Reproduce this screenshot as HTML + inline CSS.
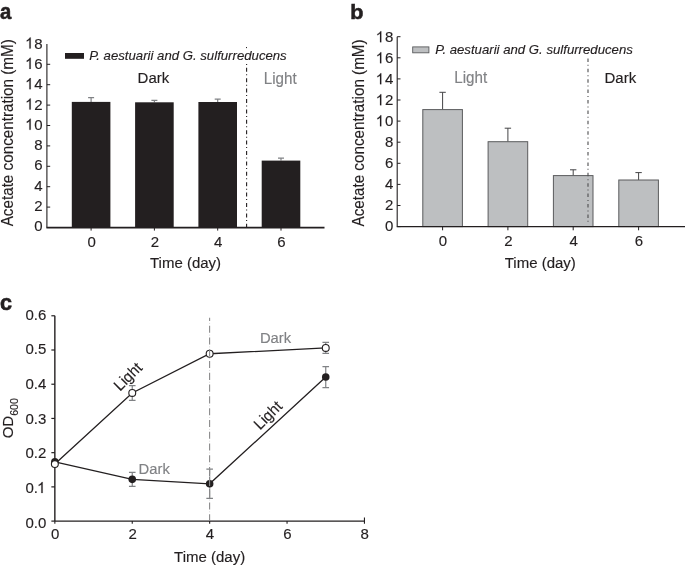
<!DOCTYPE html>
<html><head><meta charset="utf-8"><style>
html,body{margin:0;padding:0;background:#fff;}
svg{display:block;will-change:transform;font-family:"Liberation Sans", sans-serif;}
</style></head><body>
<svg width="685" height="566" viewBox="0 0 685 566">
<rect width="685" height="566" fill="#fff"/>
<path d="M91.1,101.9V97.6M88.1,97.6h6" stroke="#808285" stroke-width="1.2" fill="none"/>
<rect x="71.80" y="101.9" width="38.6" height="125.70" fill="#231f20"/>
<path d="M154.4,102.3V100.4M151.4,100.4h6" stroke="#808285" stroke-width="1.2" fill="none"/>
<rect x="135.10" y="102.3" width="38.6" height="125.30" fill="#231f20"/>
<path d="M217.7,102.0V99.1M214.7,99.1h6" stroke="#808285" stroke-width="1.2" fill="none"/>
<rect x="198.40" y="102.0" width="38.6" height="125.60" fill="#231f20"/>
<path d="M281.0,160.6V158.2M278.0,158.2h6" stroke="#808285" stroke-width="1.2" fill="none"/>
<rect x="261.70" y="160.6" width="38.6" height="67.00" fill="#231f20"/>
<rect x="246" y="47" width="1" height="1.1" fill="#231f20"/>
<line x1="246.6" y1="63.9" x2="246.6" y2="227" stroke="#231f20" stroke-width="1.1" stroke-dasharray="1 2.9 4 2.5"/>
<line x1="46.9" y1="44" x2="46.9" y2="227.6" stroke="#231f20" stroke-width="1.1"/>
<line x1="46.4" y1="227.6" x2="324.5" y2="227.6" stroke="#231f20" stroke-width="1.6"/>
<line x1="46.9" y1="227.5" x2="50.199999999999996" y2="227.5" stroke="#231f20" stroke-width="1"/>
<g transform="translate(34.36,231.45) scale(1,1.03)"><text font-size="15" fill="#231f20" stroke="#231f20" stroke-width="0.15">0</text></g>
<line x1="46.9" y1="207.1" x2="50.199999999999996" y2="207.1" stroke="#231f20" stroke-width="1"/>
<g transform="translate(34.36,211.13) scale(1,1.03)"><text font-size="15" fill="#231f20" stroke="#231f20" stroke-width="0.15">2</text></g>
<line x1="46.9" y1="186.7" x2="50.199999999999996" y2="186.7" stroke="#231f20" stroke-width="1"/>
<g transform="translate(34.36,190.81) scale(1,1.03)"><text font-size="15" fill="#231f20" stroke="#231f20" stroke-width="0.15">4</text></g>
<line x1="46.9" y1="166.3" x2="50.199999999999996" y2="166.3" stroke="#231f20" stroke-width="1"/>
<g transform="translate(34.36,170.49) scale(1,1.03)"><text font-size="15" fill="#231f20" stroke="#231f20" stroke-width="0.15">6</text></g>
<line x1="46.9" y1="145.9" x2="50.199999999999996" y2="145.9" stroke="#231f20" stroke-width="1"/>
<g transform="translate(34.36,150.17) scale(1,1.03)"><text font-size="15" fill="#231f20" stroke="#231f20" stroke-width="0.15">8</text></g>
<line x1="46.9" y1="125.5" x2="50.199999999999996" y2="125.5" stroke="#231f20" stroke-width="1"/>
<g transform="translate(26.02,129.85) scale(1,1.03)"><text font-size="15" fill="#231f20" stroke="#231f20" stroke-width="0.15"> 0</text><path d="M4.69,0.00H3.37V-8.40Q2.89,-7.95 2.12,-7.49Q1.35,-7.04 0.73,-6.81V-8.09Q1.84,-8.61 2.67,-9.35Q3.49,-10.09 3.84,-10.78H4.69Z" fill="#231f20" stroke="#231f20" stroke-width="0.15"/></g>
<line x1="46.9" y1="105.10000000000001" x2="50.199999999999996" y2="105.10000000000001" stroke="#231f20" stroke-width="1"/>
<g transform="translate(26.02,109.53) scale(1,1.03)"><text font-size="15" fill="#231f20" stroke="#231f20" stroke-width="0.15"> 2</text><path d="M4.69,0.00H3.37V-8.40Q2.89,-7.95 2.12,-7.49Q1.35,-7.04 0.73,-6.81V-8.09Q1.84,-8.61 2.67,-9.35Q3.49,-10.09 3.84,-10.78H4.69Z" fill="#231f20" stroke="#231f20" stroke-width="0.15"/></g>
<line x1="46.9" y1="84.70000000000002" x2="50.199999999999996" y2="84.70000000000002" stroke="#231f20" stroke-width="1"/>
<g transform="translate(26.02,89.21) scale(1,1.03)"><text font-size="15" fill="#231f20" stroke="#231f20" stroke-width="0.15"> 4</text><path d="M4.69,0.00H3.37V-8.40Q2.89,-7.95 2.12,-7.49Q1.35,-7.04 0.73,-6.81V-8.09Q1.84,-8.61 2.67,-9.35Q3.49,-10.09 3.84,-10.78H4.69Z" fill="#231f20" stroke="#231f20" stroke-width="0.15"/></g>
<line x1="46.9" y1="64.30000000000001" x2="50.199999999999996" y2="64.30000000000001" stroke="#231f20" stroke-width="1"/>
<g transform="translate(26.02,68.89) scale(1,1.03)"><text font-size="15" fill="#231f20" stroke="#231f20" stroke-width="0.15"> 6</text><path d="M4.69,0.00H3.37V-8.40Q2.89,-7.95 2.12,-7.49Q1.35,-7.04 0.73,-6.81V-8.09Q1.84,-8.61 2.67,-9.35Q3.49,-10.09 3.84,-10.78H4.69Z" fill="#231f20" stroke="#231f20" stroke-width="0.15"/></g>
<g transform="translate(26.02,48.57) scale(1,1.03)"><text font-size="15" fill="#231f20" stroke="#231f20" stroke-width="0.15"> 8</text><path d="M4.69,0.00H3.37V-8.40Q2.89,-7.95 2.12,-7.49Q1.35,-7.04 0.73,-6.81V-8.09Q1.84,-8.61 2.67,-9.35Q3.49,-10.09 3.84,-10.78H4.69Z" fill="#231f20" stroke="#231f20" stroke-width="0.15"/></g>
<line x1="91.1" y1="227.6" x2="91.1" y2="230.6" stroke="#231f20" stroke-width="1"/>
<text transform="translate(91.60,246.70) scale(1.0,1.03)" text-anchor="middle" font-size="15" fill="#231f20" stroke="#231f20" stroke-width="0.15">0</text>
<line x1="154.4" y1="227.6" x2="154.4" y2="230.6" stroke="#231f20" stroke-width="1"/>
<text transform="translate(154.90,246.70) scale(1.0,1.03)" text-anchor="middle" font-size="15" fill="#231f20" stroke="#231f20" stroke-width="0.15">2</text>
<line x1="217.7" y1="227.6" x2="217.7" y2="230.6" stroke="#231f20" stroke-width="1"/>
<text transform="translate(218.20,246.70) scale(1.0,1.03)" text-anchor="middle" font-size="15" fill="#231f20" stroke="#231f20" stroke-width="0.15">4</text>
<line x1="281.0" y1="227.6" x2="281.0" y2="230.6" stroke="#231f20" stroke-width="1"/>
<text transform="translate(281.50,246.70) scale(1.0,1.03)" text-anchor="middle" font-size="15" fill="#231f20" stroke="#231f20" stroke-width="0.15">6</text>
<text transform="translate(185.50,268.10) scale(1.0,1.03)" text-anchor="middle" font-size="15" fill="#231f20" stroke="#231f20" stroke-width="0.15">Time (day)</text>
<text transform="translate(13.20,132.75) rotate(-90) scale(1.0,1.03)" text-anchor="middle" font-size="15.25" fill="#231f20" stroke="#231f20" stroke-width="0.15">Acetate concentration (mM)</text>
<rect x="65" y="53" width="19" height="5.8" fill="#231f20"/>
<text transform="translate(89.20,59.50) scale(1.0,1.03)" font-size="13.2" fill="#231f20" stroke="#231f20" stroke-width="0.15" font-style="italic">P. aestuarii and G. sulfurreducens</text>
<text transform="translate(137.60,83.30) scale(1.0,1.03)" font-size="15" fill="#231f20" stroke="#231f20" stroke-width="0.15">Dark</text>
<text transform="translate(263.70,83.50) scale(1.0,1.03)" font-size="15.2" fill="#808285" stroke="#808285" stroke-width="0.15">Light</text>
<text transform="translate(0.10,18.80) scale(0.9,1.02)" font-size="22.5" fill="#231f20" stroke="#231f20" stroke-width="0.6" font-weight="bold">a</text>
<path d="M442.6,109.6V92.3M439.40000000000003,92.3h6.4" stroke="#444446" stroke-width="1" fill="none"/>
<rect x="422.80" y="109.6" width="39.6" height="117.00" fill="#bdbfc1" stroke="#5a5b5d" stroke-width="1"/>
<path d="M507.9,141.7V128.2M504.7,128.2h6.4" stroke="#444446" stroke-width="1" fill="none"/>
<rect x="488.10" y="141.7" width="39.6" height="84.90" fill="#bdbfc1" stroke="#5a5b5d" stroke-width="1"/>
<path d="M573.2,175.6V169.8M570.0,169.8h6.4" stroke="#444446" stroke-width="1" fill="none"/>
<rect x="553.40" y="175.6" width="39.6" height="51.00" fill="#bdbfc1" stroke="#5a5b5d" stroke-width="1"/>
<path d="M638.6,180.0V172.6M635.4,172.6h6.4" stroke="#444446" stroke-width="1" fill="none"/>
<rect x="618.80" y="180.0" width="39.6" height="46.60" fill="#bdbfc1" stroke="#5a5b5d" stroke-width="1"/>
<line x1="588" y1="58.4" x2="588" y2="222" stroke="#4d4d4f" stroke-width="1.1" stroke-dasharray="3.5 2.9 1 3.0"/>
<line x1="397.2" y1="36.70" x2="397.2" y2="226.6" stroke="#231f20" stroke-width="1.1"/>
<line x1="396.7" y1="226.6" x2="685" y2="226.6" stroke="#231f20" stroke-width="1.4"/>
<line x1="397.2" y1="226.60" x2="400.5" y2="226.60" stroke="#231f20" stroke-width="1"/>
<g transform="translate(384.96,231.45) scale(1,1.03)"><text font-size="15" fill="#231f20" stroke="#231f20" stroke-width="0.15">0</text></g>
<line x1="397.2" y1="205.50" x2="400.5" y2="205.50" stroke="#231f20" stroke-width="1"/>
<g transform="translate(384.96,210.43) scale(1,1.03)"><text font-size="15" fill="#231f20" stroke="#231f20" stroke-width="0.15">2</text></g>
<line x1="397.2" y1="184.40" x2="400.5" y2="184.40" stroke="#231f20" stroke-width="1"/>
<g transform="translate(384.96,189.41) scale(1,1.03)"><text font-size="15" fill="#231f20" stroke="#231f20" stroke-width="0.15">4</text></g>
<line x1="397.2" y1="163.30" x2="400.5" y2="163.30" stroke="#231f20" stroke-width="1"/>
<g transform="translate(384.96,168.39) scale(1,1.03)"><text font-size="15" fill="#231f20" stroke="#231f20" stroke-width="0.15">6</text></g>
<line x1="397.2" y1="142.20" x2="400.5" y2="142.20" stroke="#231f20" stroke-width="1"/>
<g transform="translate(384.96,147.37) scale(1,1.03)"><text font-size="15" fill="#231f20" stroke="#231f20" stroke-width="0.15">8</text></g>
<line x1="397.2" y1="121.10" x2="400.5" y2="121.10" stroke="#231f20" stroke-width="1"/>
<g transform="translate(376.62,126.35) scale(1,1.03)"><text font-size="15" fill="#231f20" stroke="#231f20" stroke-width="0.15"> 0</text><path d="M4.69,0.00H3.37V-8.40Q2.89,-7.95 2.12,-7.49Q1.35,-7.04 0.73,-6.81V-8.09Q1.84,-8.61 2.67,-9.35Q3.49,-10.09 3.84,-10.78H4.69Z" fill="#231f20" stroke="#231f20" stroke-width="0.15"/></g>
<line x1="397.2" y1="100.00" x2="400.5" y2="100.00" stroke="#231f20" stroke-width="1"/>
<g transform="translate(376.62,105.33) scale(1,1.03)"><text font-size="15" fill="#231f20" stroke="#231f20" stroke-width="0.15"> 2</text><path d="M4.69,0.00H3.37V-8.40Q2.89,-7.95 2.12,-7.49Q1.35,-7.04 0.73,-6.81V-8.09Q1.84,-8.61 2.67,-9.35Q3.49,-10.09 3.84,-10.78H4.69Z" fill="#231f20" stroke="#231f20" stroke-width="0.15"/></g>
<line x1="397.2" y1="78.90" x2="400.5" y2="78.90" stroke="#231f20" stroke-width="1"/>
<g transform="translate(376.62,84.31) scale(1,1.03)"><text font-size="15" fill="#231f20" stroke="#231f20" stroke-width="0.15"> 4</text><path d="M4.69,0.00H3.37V-8.40Q2.89,-7.95 2.12,-7.49Q1.35,-7.04 0.73,-6.81V-8.09Q1.84,-8.61 2.67,-9.35Q3.49,-10.09 3.84,-10.78H4.69Z" fill="#231f20" stroke="#231f20" stroke-width="0.15"/></g>
<line x1="397.2" y1="57.80" x2="400.5" y2="57.80" stroke="#231f20" stroke-width="1"/>
<g transform="translate(376.62,63.29) scale(1,1.03)"><text font-size="15" fill="#231f20" stroke="#231f20" stroke-width="0.15"> 6</text><path d="M4.69,0.00H3.37V-8.40Q2.89,-7.95 2.12,-7.49Q1.35,-7.04 0.73,-6.81V-8.09Q1.84,-8.61 2.67,-9.35Q3.49,-10.09 3.84,-10.78H4.69Z" fill="#231f20" stroke="#231f20" stroke-width="0.15"/></g>
<line x1="397.2" y1="36.70" x2="400.5" y2="36.70" stroke="#231f20" stroke-width="1"/>
<g transform="translate(376.62,42.27) scale(1,1.03)"><text font-size="15" fill="#231f20" stroke="#231f20" stroke-width="0.15"> 8</text><path d="M4.69,0.00H3.37V-8.40Q2.89,-7.95 2.12,-7.49Q1.35,-7.04 0.73,-6.81V-8.09Q1.84,-8.61 2.67,-9.35Q3.49,-10.09 3.84,-10.78H4.69Z" fill="#231f20" stroke="#231f20" stroke-width="0.15"/></g>
<line x1="442.6" y1="226.6" x2="442.6" y2="230.29999999999998" stroke="#231f20" stroke-width="1"/>
<text transform="translate(443.00,246.40) scale(1.0,1.03)" text-anchor="middle" font-size="15" fill="#231f20" stroke="#231f20" stroke-width="0.15">0</text>
<line x1="507.9" y1="226.6" x2="507.9" y2="230.29999999999998" stroke="#231f20" stroke-width="1"/>
<text transform="translate(508.30,246.40) scale(1.0,1.03)" text-anchor="middle" font-size="15" fill="#231f20" stroke="#231f20" stroke-width="0.15">2</text>
<line x1="573.2" y1="226.6" x2="573.2" y2="230.29999999999998" stroke="#231f20" stroke-width="1"/>
<text transform="translate(573.60,246.40) scale(1.0,1.03)" text-anchor="middle" font-size="15" fill="#231f20" stroke="#231f20" stroke-width="0.15">4</text>
<line x1="638.6" y1="226.6" x2="638.6" y2="230.29999999999998" stroke="#231f20" stroke-width="1"/>
<text transform="translate(639.00,246.40) scale(1.0,1.03)" text-anchor="middle" font-size="15" fill="#231f20" stroke="#231f20" stroke-width="0.15">6</text>
<text transform="translate(540.30,268.10) scale(1.0,1.03)" text-anchor="middle" font-size="15" fill="#231f20" stroke="#231f20" stroke-width="0.15">Time (day)</text>
<text transform="translate(363.70,132.95) rotate(-90) scale(1.0,1.03)" text-anchor="middle" font-size="15.25" fill="#231f20" stroke="#231f20" stroke-width="0.15">Acetate concentration (mM)</text>
<rect x="412.7" y="46.9" width="16.2" height="5.9" fill="#bdbfc1" stroke="#5a5b5d" stroke-width="0.9"/>
<text transform="translate(435.30,53.90) scale(1.0,1.03)" font-size="13.2" fill="#231f20" stroke="#231f20" stroke-width="0.15" font-style="italic">P. aestuarii and G. sulfurreducens</text>
<text transform="translate(454.20,83.40) scale(1.0,1.03)" font-size="15.2" fill="#808285" stroke="#808285" stroke-width="0.15">Light</text>
<text transform="translate(604.50,83.00) scale(1.0,1.03)" font-size="15" fill="#231f20" stroke="#231f20" stroke-width="0.15">Dark</text>
<text transform="translate(350.30,18.80) scale(0.96,0.88)" font-size="22.5" fill="#231f20" stroke="#231f20" stroke-width="0.6" font-weight="bold">b</text>
<line x1="54.85" y1="315.78" x2="54.85" y2="521.1" stroke="#231f20" stroke-width="1.4"/>
<line x1="54.85" y1="521.1" x2="364.45" y2="521.1" stroke="#231f20" stroke-width="1.4"/>
<line x1="51.35" y1="521.10" x2="54.85" y2="521.10" stroke="#231f20" stroke-width="1.2"/>
<g transform="translate(25.45,527.72) scale(1,1.03)"><text font-size="15" fill="#231f20" stroke="#231f20" stroke-width="0.15">0.0</text></g>
<line x1="51.35" y1="486.88" x2="54.85" y2="486.88" stroke="#231f20" stroke-width="1.2"/>
<g transform="translate(25.45,493.05) scale(1,1.03)"><text font-size="15" fill="#231f20" stroke="#231f20" stroke-width="0.15">0. </text><path d="M17.20,0.00H15.88V-8.40Q15.40,-7.95 14.63,-7.49Q13.86,-7.04 13.24,-6.81V-8.09Q14.35,-8.61 15.18,-9.35Q16.00,-10.09 16.35,-10.78H17.20Z" fill="#231f20" stroke="#231f20" stroke-width="0.15"/></g>
<line x1="51.35" y1="452.66" x2="54.85" y2="452.66" stroke="#231f20" stroke-width="1.2"/>
<g transform="translate(25.45,458.38) scale(1,1.03)"><text font-size="15" fill="#231f20" stroke="#231f20" stroke-width="0.15">0.2</text></g>
<line x1="51.35" y1="418.44" x2="54.85" y2="418.44" stroke="#231f20" stroke-width="1.2"/>
<g transform="translate(25.45,423.71) scale(1,1.03)"><text font-size="15" fill="#231f20" stroke="#231f20" stroke-width="0.15">0.3</text></g>
<line x1="51.35" y1="384.22" x2="54.85" y2="384.22" stroke="#231f20" stroke-width="1.2"/>
<g transform="translate(25.45,389.04) scale(1,1.03)"><text font-size="15" fill="#231f20" stroke="#231f20" stroke-width="0.15">0.4</text></g>
<line x1="51.35" y1="350.00" x2="54.85" y2="350.00" stroke="#231f20" stroke-width="1.2"/>
<g transform="translate(25.45,354.37) scale(1,1.03)"><text font-size="15" fill="#231f20" stroke="#231f20" stroke-width="0.15">0.5</text></g>
<line x1="51.35" y1="315.78" x2="54.85" y2="315.78" stroke="#231f20" stroke-width="1.2"/>
<g transform="translate(25.45,319.70) scale(1,1.03)"><text font-size="15" fill="#231f20" stroke="#231f20" stroke-width="0.15">0.6</text></g>
<line x1="54.85" y1="521.1" x2="54.85" y2="523.8000000000001" stroke="#231f20" stroke-width="1.1"/>
<text transform="translate(55.15,539.20) scale(1.0,1.03)" text-anchor="middle" font-size="15" fill="#231f20" stroke="#231f20" stroke-width="0.15">0</text>
<line x1="132.25" y1="521.1" x2="132.25" y2="523.8000000000001" stroke="#231f20" stroke-width="1.1"/>
<text transform="translate(132.55,539.20) scale(1.0,1.03)" text-anchor="middle" font-size="15" fill="#231f20" stroke="#231f20" stroke-width="0.15">2</text>
<line x1="209.65" y1="521.1" x2="209.65" y2="523.8000000000001" stroke="#231f20" stroke-width="1.1"/>
<text transform="translate(209.95,539.20) scale(1.0,1.03)" text-anchor="middle" font-size="15" fill="#231f20" stroke="#231f20" stroke-width="0.15">4</text>
<line x1="287.05" y1="521.1" x2="287.05" y2="523.8000000000001" stroke="#231f20" stroke-width="1.1"/>
<text transform="translate(287.35,539.20) scale(1.0,1.03)" text-anchor="middle" font-size="15" fill="#231f20" stroke="#231f20" stroke-width="0.15">6</text>
<line x1="364.45" y1="517.6" x2="364.45" y2="523.8000000000001" stroke="#231f20" stroke-width="1.1"/>
<text transform="translate(364.75,539.20) scale(1.0,1.03)" text-anchor="middle" font-size="15" fill="#231f20" stroke="#231f20" stroke-width="0.15">8</text>
<text transform="translate(209.60,562.10) scale(1.0,1.03)" text-anchor="middle" font-size="15" fill="#231f20" stroke="#231f20" stroke-width="0.15">Time (day)</text>
<text transform="translate(13.30,438.30) rotate(-90) scale(1.0,1.03)" font-size="15.0" fill="#231f20" stroke="#231f20" stroke-width="0.15">OD<tspan font-size="10.6" dy="4.5">600</tspan></text>
<text transform="translate(0.10,309.50) scale(0.96,0.95)" font-size="22.5" fill="#231f20" stroke="#231f20" stroke-width="0.6" font-weight="bold">c</text>
<text transform="translate(259.90,343.40) scale(1.0,1.03)" font-size="14.8" fill="#808285" stroke="#808285" stroke-width="0.15">Dark</text>
<text transform="translate(138.60,473.80) scale(1.0,1.03)" font-size="14.8" fill="#808285" stroke="#808285" stroke-width="0.15">Dark</text>
<text transform="translate(120.10,391.70) rotate(-45) scale(1.0,1.03)" font-size="15" fill="#231f20" stroke="#231f20" stroke-width="0.15">Light</text>
<text transform="translate(260.10,430.40) rotate(-45) scale(1.0,1.03)" font-size="15" fill="#231f20" stroke="#231f20" stroke-width="0.15">Light</text>
<polyline points="54.85,461.90 132.25,479.35 209.65,483.80 325.75,377.03" fill="none" stroke="#231f20" stroke-width="1.3"/>
<polyline points="54.85,464.06 132.25,392.95 209.65,353.76 325.75,347.95" fill="none" stroke="#231f20" stroke-width="1.3"/>
<path d="M132.25,472.35V486.35M128.95,472.35h6.6M128.95,486.35h6.6" stroke="#808285" stroke-width="1.2" fill="none"/>
<path d="M209.65,469.20V498.40M206.35,469.20h6.6M206.35,498.40h6.6" stroke="#808285" stroke-width="1.2" fill="none"/>
<path d="M325.75,366.53V387.53M322.45,366.53h6.6M322.45,387.53h6.6" stroke="#808285" stroke-width="1.2" fill="none"/>
<path d="M132.25,385.55V400.35M128.95,385.55h6.6M128.95,400.35h6.6" stroke="#808285" stroke-width="1.2" fill="none"/>
<path d="M325.75,342.45V353.45M322.45,342.45h6.6M322.45,353.45h6.6" stroke="#808285" stroke-width="1.2" fill="none"/>
<circle cx="54.85" cy="461.90" r="3.8" fill="#231f20"/>
<circle cx="132.25" cy="479.35" r="3.8" fill="#231f20"/>
<circle cx="209.65" cy="483.80" r="3.8" fill="#231f20"/>
<circle cx="325.75" cy="377.03" r="3.8" fill="#231f20"/>
<circle cx="54.85" cy="464.06" r="3.45" fill="#fff" stroke="#231f20" stroke-width="1.1"/>
<circle cx="132.25" cy="392.95" r="3.45" fill="#fff" stroke="#231f20" stroke-width="1.1"/>
<circle cx="209.65" cy="353.76" r="3.45" fill="#fff" stroke="#231f20" stroke-width="1.1"/>
<circle cx="325.75" cy="347.95" r="3.45" fill="#fff" stroke="#231f20" stroke-width="1.1"/>
<line x1="209.6" y1="317.7" x2="209.6" y2="521" stroke="#8a8a8c" stroke-width="1.1" stroke-dasharray="7.1 4.68" stroke-dashoffset="3.8"/>
<line x1="209.6" y1="313.9" x2="209.6" y2="521" stroke="#d0d0d2" stroke-width="1" stroke-dasharray="0.8 10.98" stroke-dashoffset="-9.04"/>
</svg>
</body></html>
